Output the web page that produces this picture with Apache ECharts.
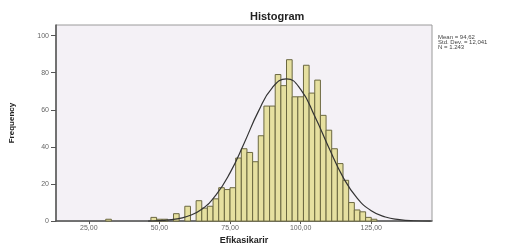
<!DOCTYPE html>
<html>
<head>
<meta charset="utf-8">
<script src="https://cdn.jsdelivr.net/npm/echarts@6/dist/echarts.min.js"></script>
<style>
  html, body { margin: 0; padding: 0; background: #fff; }
  #container { width: 519px; height: 250px; }
</style>
</head>
<body>
<div id="container"></div>
<script>
/* histogram data */
const binCenters = [32, 48, 50, 52, 54, 56, 58, 60, 62, 64, 66, 68, 70, 72, 74, 76, 78, 80, 82, 84,
                    86, 88, 90, 92, 94, 96, 98, 100, 102, 104, 106, 108, 110, 112, 114, 116, 118, 120, 122, 124, 126];
const binCounts  = [1, 2, 1, 1, 0, 4, 0, 8, 0, 11, 7, 8, 12, 18, 17, 18, 34, 39, 37, 32,
                    46, 62, 62, 79, 73, 87, 67, 67, 84, 69, 76, 57, 49, 39, 31, 22, 10, 6, 5, 2, 1];
const binWidth = 2;

// normal curve, points
const curveX = [46, 50, 55, 60, 65, 70, 75, 80, 85, 90, 95, 100, 105, 110, 115, 120, 125, 130, 135, 140, 146];
const curveY = [0, 0.3, 0.9, 2.6, 6.4, 14, 26, 42, 59, 72, 76.7, 71, 56.5, 39.5, 23.7, 12.4, 5.6, 2.2, 0.8, 0.2, 0];

const xTicks = [25, 50, 75, 100, 125];
const yTicks = [0, 20, 40, 60, 80, 100];

const statLines = ['Mean = 94,62', 'Std. Dev. = 12,041', 'N = 1.243'];

const font = 'Liberation Sans, Arial, sans-serif';

const dom = document.getElementById('container');
const myChart = echarts.init(dom, null, { renderer: 'canvas' });

const bars = binCenters.map((c, i) => [c, binCounts[i]]);
const curve = curveX.map((x, i) => [x, curveY[i]]);

const option = {
    animation: false,
    title: {
        text: 'Histogram',
        left: 250,
        top: 11,
        padding: 0,
        textStyle: { fontSize: 11, fontWeight: 'bold', color: '#222', fontFamily: font }
    },
    grid: {
        left: 54, top: 25, width: 378, height: 203,
        show: true,
        backgroundColor: '#f4f1f6',
        borderColor: '#9a9a9a',
        borderWidth: 1
    },
    xAxis: {
        type: 'value',
        min: 13.4,
        max: 146.5,
        name: 'Efikasikarir',
        nameLocation: 'middle',
        nameGap: 14,
        nameTextStyle: { fontSize: 9, fontWeight: 'bold', color: '#222', fontFamily: font },
        axisLine: { lineStyle: { color: '#555', width: 1.5 } },
        axisTick: { length: 3, customValues: xTicks, lineStyle: { color: '#555' } },
        axisLabel: {
            customValues: xTicks,
            margin: 3,
            fontSize: 7, color: '#666', fontFamily: font,
            formatter: v => v.toFixed(2).replace('.', ',')
        },
        splitLine: { show: false }
    },
    yAxis: {
        type: 'value',
        min: 0,
        max: 105.7,
        name: 'Frequency',
        nameLocation: 'middle',
        nameGap: 40,
        nameTextStyle: { fontSize: 8, fontWeight: 'bold', color: '#222', fontFamily: font },
        axisLine: { show: true, lineStyle: { color: '#555', width: 1.5 } },
        axisTick: { show: true, length: 5, customValues: yTicks, lineStyle: { color: '#555' } },
        axisLabel: {
            customValues: yTicks,
            margin: 7,
            fontSize: 7, color: '#666', fontFamily: font
        },
        splitLine: { show: false }
    },
    graphic: [{
        type: 'text',
        left: 438,
        top: 34,
        style: {
            text: statLines.join('\n'),
            fontSize: 6,
            lineHeight: 5.4,
            fill: '#444',
            fontFamily: font
        }
    }],
    series: [
        {
            type: 'custom',
            data: bars,
            encode: { x: 0, y: 1 },
            renderItem: function (params, api) {
                const c = api.value(0);
                const n = api.value(1);
                if (!n) return null;
                const p0 = api.coord([c - binWidth / 2, n]);
                const p1 = api.coord([c + binWidth / 2, 0]);
                return {
                    type: 'rect',
                    shape: { x: p0[0], y: p0[1], width: p1[0] - p0[0], height: p1[1] - p0[1] },
                    style: { fill: '#e6e0a0', stroke: '#6b6840', lineWidth: 1 }
                };
            }
        },
        {
            type: 'line',
            data: curve,
            smooth: true,
            symbol: 'none',
            lineStyle: { color: '#333', width: 1.2 },
            z: 5
        }
    ]
};
myChart.setOption(option, true);
</script>
</body>
</html>
